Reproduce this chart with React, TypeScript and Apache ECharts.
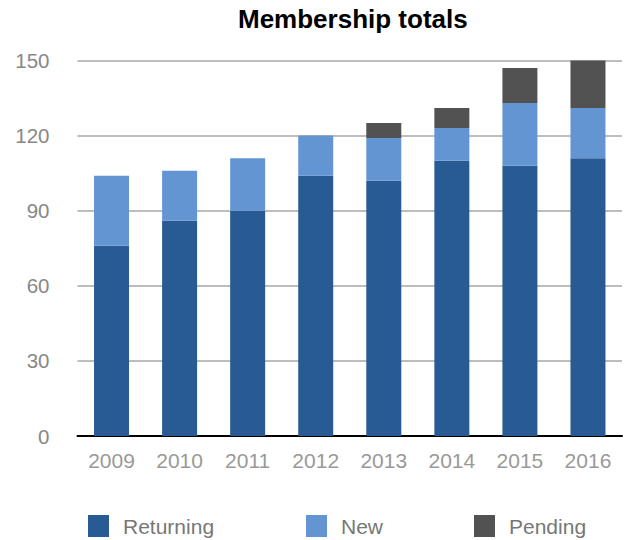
import React, { useEffect, useRef } from "react";
import * as echarts from "echarts";

const years = ["2009", "2010", "2011", "2012", "2013", "2014", "2015", "2016"];
const returning = [76, 86, 90, 104, 102, 110, 108, 111];
const newMembers = [28, 20, 21, 16, 17, 13, 25, 20];
const pending = [0, 0, 0, 0, 6, 8, 14, 19];

const FONT = "'Liberation Sans', Arial, Helvetica, sans-serif";
const colors = { returning: "#285b93", newM: "#6495d3", pending: "#525252" };

export default function App() {
  const ref = useRef<HTMLDivElement>(null);
  useEffect(() => {
    if (!ref.current) return;
    const chart = echarts.init(ref.current, undefined, { renderer: "svg" });
    const legendText = { fontFamily: FONT, fontSize: 21, color: "#777", padding: [0, 0, 0, 9] };
    const legendBase = {
      top: 515,
      padding: 0,
      itemWidth: 21,
      itemHeight: 22,
      icon: "rect",
      textStyle: legendText,
    };
    chart.setOption({
      animation: false,
      title: {
        text: "Membership totals",
        left: 233,
        top: 1,
        textStyle: { fontFamily: FONT, fontSize: 26, fontWeight: "bold", color: "#000" },
      },
      legend: [
        { ...legendBase, left: 88, data: ["Returning"] },
        { ...legendBase, left: 306, data: ["New"] },
        { ...legendBase, left: 474, data: ["Pending"] },
      ],
      grid: { left: 77.5, right: 2, top: 60.5, bottom: 104, containLabel: false },
      xAxis: {
        type: "category",
        data: years,
        axisLine: { lineStyle: { color: "#000", width: 2 } },
        axisTick: { show: false },
        axisLabel: { fontFamily: FONT, fontSize: 21, color: "#999", margin: 14 },
      },
      yAxis: {
        type: "value",
        min: 0,
        max: 150,
        interval: 30,
        axisLine: { show: false },
        axisTick: { show: false },
        axisLabel: { fontFamily: FONT, fontSize: 20.5, color: "#888", margin: 28 },
        splitLine: { lineStyle: { color: "#bdbdbd", width: 2 } },
      },
      series: [
        { name: "Returning", type: "bar", stack: "total", data: returning, barWidth: 35, itemStyle: { color: colors.returning } },
        { name: "New", type: "bar", stack: "total", data: newMembers, barWidth: 35, itemStyle: { color: colors.newM } },
        { name: "Pending", type: "bar", stack: "total", data: pending, barWidth: 35, itemStyle: { color: colors.pending } },
      ],
    });
    return () => chart.dispose();
  }, []);
  return (
    <div
      ref={ref}
      style={{ position: "fixed", left: 0, top: 0, width: 624, height: 540, background: "#fff" }}
    />
  );
}
